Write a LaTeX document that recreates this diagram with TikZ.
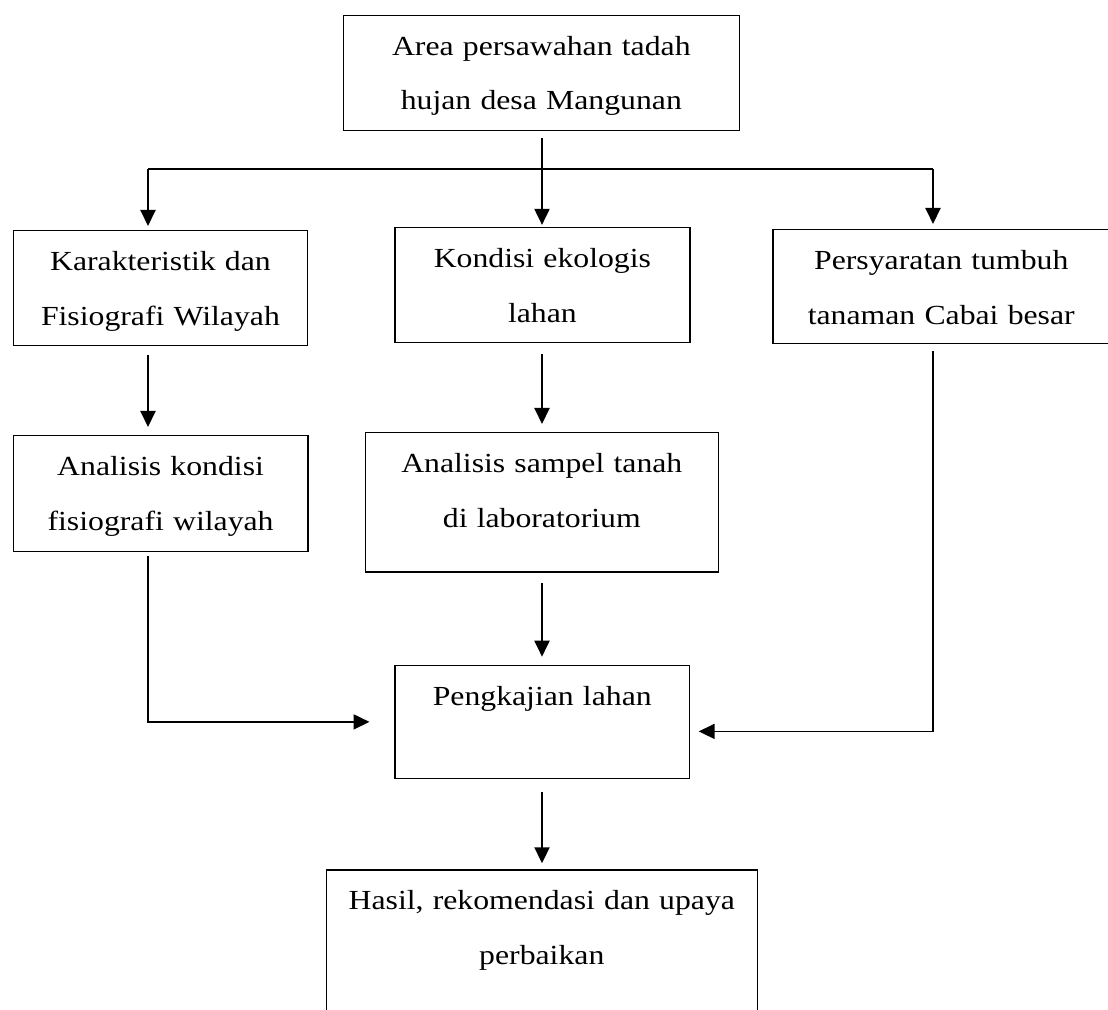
\documentclass[tikz,border=0pt]{standalone}
\usepackage{fontspec}
\setmainfont[FakeStretch=1.15]{Liberation Serif}
\usetikzlibrary{arrows.meta}

\begin{document}
\begin{tikzpicture}[
		x=0.5pt, y=-0.5pt,
		kotak/.style={draw, line width=0.6pt, anchor=north west, inner sep=0pt, align=center,
			text height=20pt, font=\fontsize{13.8}{27.35}\selectfont},
		panah/.style={-{Triangle[width=7.5pt,length=8pt]}, line width=1pt},
		garis/.style={line width=1pt}
		]
	\useasboundingbox (0,0) rectangle (1108,1010);

	% Kotak-kotak
	\node[kotak, text width=198.25pt, text depth=37.65pt] (area) at (342.5,14.7) {Area persawahan tadah\\hujan desa Mangunan};
	\node[kotak, text width=147.15pt, text depth=37.5pt] (karak) at (12.7,230) {Karakteristik dan\\Fisiografi Wilayah};
	\node[kotak, text width=147.5pt, text depth=37.15pt] (kondisi) at (394.3,227.3) {Kondisi ekologis\\lahan};
	\node[kotak, text width=168.35pt, text depth=37.15pt] (syarat) at (772.3,229) {Persyaratan tumbuh\\tanaman Cabai besar};
	\node[kotak, text width=147.3pt, text depth=38pt] (fisio) at (12.7,435) {Analisis kondisi\\fisiografi wilayah};
	\node[kotak, text width=176.5pt, text depth=49.5pt] (sampel) at (364.7,432.3) {Analisis sampel tanah\\di laboratorium};
	\node[kotak, text width=147.35pt, text depth=36.3pt] (kaji) at (394.3,665) {Pengkajian lahan};
	\node[kotak, text width=215.5pt, text depth=65pt] (hasil) at (325.7,869.3) {Hasil, rekomendasi dan upaya\\perbaikan};

	% Percabangan
	\coordinate (kiri) at (148,169);
	\coordinate (tengah) at (542,169);
	\coordinate (kanan) at (933,169);
	\coordinate (masuk) at ([yshift=-4.75pt]kaji.east);

	\draw[garis] (kiri) -- (kanan);
	\draw[panah, shorten <=3.5pt, shorten >=1.2pt] (tengah |- area.south) -- (tengah |- kondisi.north);
	\draw[panah, shorten >=2pt] (kiri) -- (kiri |- karak.north);
	\draw[panah, shorten >=2.5pt] (kanan) -- (kanan |- syarat.north);

	% Panah ke bawah
	\draw[panah, shorten <=4.5pt, shorten >=4pt] (kiri |- karak.south) -- (kiri |- fisio.north);
	\draw[panah, shorten <=5.85pt, shorten >=4.15pt] (tengah |- kondisi.south) -- (tengah |- sampel.north);
	\draw[panah, shorten <=5.35pt, shorten >=4.15pt] (tengah |- sampel.south) -- (tengah |- kaji.north);
	\draw[panah, shorten <=6.35pt, shorten >=3pt] (tengah |- kaji.south) -- (tengah |- hasil.north);

	% Masuk ke pengkajian
	\draw[panah, line width=0.9pt, shorten <=2pt, shorten >=12.4pt] (kiri |- fisio.south) -- (kiri |- kaji.west) -- (kaji.west);
	\draw[panah, line width=0.9pt, shorten <=3.35pt, shorten >=4.25pt] (kanan |- syarat.south) -- (kanan |- masuk) -- (masuk);
\end{tikzpicture}
\end{document}
